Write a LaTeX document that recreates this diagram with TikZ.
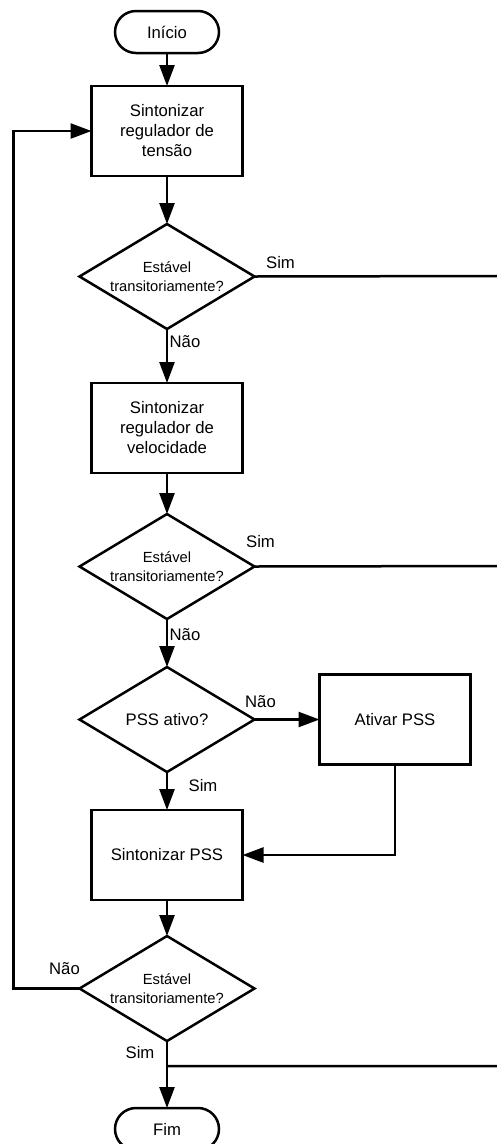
\documentclass[tikz,border=0pt]{standalone}
\usepackage{fontspec}
\setmainfont{Liberation Sans}
\usetikzlibrary{shapes.geometric,positioning,arrows.meta}

\begin{document}
\begin{tikzpicture}[x=1pt,y=1pt,align=center,line width=2.5pt,outer sep=0pt,
    font=\fontsize{16.7}{20}\selectfont,
    term/.style={draw,rounded corners=21pt,minimum width=104pt,minimum height=42pt},
    proc/.style={draw,minimum width=151pt,minimum height=90pt},
    test/.style={draw,diamond,aspect=1.7,inner sep=0pt,minimum width=175pt,minimum height=105pt},
    small/.style={font=\fontsize{14.7}{19}\selectfont},
    lbl/.style={inner sep=0pt},
    seta/.style={-{Triangle[length=21pt,width=15pt]}}]
  \useasboundingbox (0,0) rectangle (496,-1144);

  % coluna principal
  \node[term] (ini) at (167,-32) {Início};
  \node[proc, below=33pt of ini] (ptens) {Sintonizar\\regulador de\\tensão};
  \node[test, small, below=48pt of ptens] (d1) {Estável\\transitoriamente?};
  \node[proc, below=54pt of d1] (pvel) {Sintonizar\\regulador de\\velocidade};
  \node[test, small, below=41pt of pvel] (d2) {Estável\\transitoriamente?};
  \node[test, below=48pt of d2] (d3) {PSS ativo?};
  \node[proc, right=65pt of d3] (ativ) {Ativar PSS};
  \node[proc, below=38pt of d3] (ppss) {Sintonizar PSS};
  \node[test, small, below=36pt of ppss] (d4) {Estável\\transitoriamente?};
  \node[term, below=67pt of d4] (fim) {Fim};

  % rotulos
  \node[lbl] (s1) at ([xshift=26pt,yshift=14pt]d1.east) {Sim};
  \node[lbl] (n1) at ([xshift=18pt,yshift=-13pt]d1.south) {Não};
  \node[lbl] (s2) at ([xshift=6pt,yshift=25pt]d2.east) {Sim};
  \node[lbl] (n2) at ([xshift=18pt,yshift=-16pt]d2.south) {Não};
  \node[lbl] (n3) at ([xshift=6pt,yshift=18pt]d3.east) {Não};
  \node[lbl] (s3) at ([xshift=36pt,yshift=-14pt]d3.south) {Sim};
  \node[lbl] (n4) at ([xshift=-15pt,yshift=20pt]d4.west) {Não};
  \node[lbl] (s4) at ([xshift=-27pt,yshift=-12pt]d4.south) {Sim};

  \coordinate (lft) at ([xshift=-66pt]d4.west);
  \coordinate (r1) at (499,-276);
  \coordinate (r2) at (499,-566);
  \coordinate (r3) at (499,-1066);
  \coordinate (jn) at (d4.south |- r3);

  \draw (ini) edge[seta] (ptens)
        (ptens) edge[seta] (d1)
        (d1) edge[seta] (pvel)
        (pvel) edge[seta] (d2)
        (d2) edge[seta] (d3)
        (d3) edge[seta] (ativ)
        (d3) edge[seta] (ppss)
        (ppss) edge[seta] (d4)
        (d4) edge[seta] (fim);
  \draw[seta] (ativ.south) |- (ppss.east);
  \draw[seta] (d4.west) -- (lft) |- (ptens.west);
  \draw (d1.east) -- (r1) -- (r3) -- (jn);
  \draw (d2.east) -- (r2);
\end{tikzpicture}
\end{document}
